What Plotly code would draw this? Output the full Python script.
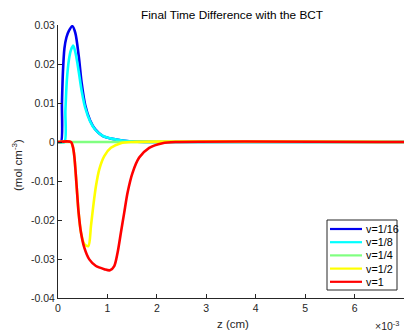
import plotly.graph_objects as go

# ---------------- data (z in units of 1e-3 cm) ----------------
z_v16 = [0, 0.06, 0.08, 0.10, 0.13, 0.17, 0.22, 0.29, 0.35, 0.42, 0.48, 0.55, 0.65, 0.75, 0.9, 1.1, 1.3, 1.6, 2.0, 7.0]
y_v16 = [0, 0, 0.010, 0.018, 0.024, 0.0268, 0.0285, 0.0297, 0.0280, 0.0220, 0.0150, 0.0095, 0.0055, 0.0033, 0.0016, 0.0008, 0.0004, 0.0001, 0, 0]

z_v8 = [0, 0.13, 0.15, 0.18, 0.22, 0.26, 0.31, 0.36, 0.42, 0.48, 0.55, 0.65, 0.75, 0.9, 1.1, 1.3, 1.6, 2.0, 7.0]
y_v8 = [0, 0, 0.008, 0.016, 0.021, 0.0235, 0.0247, 0.0225, 0.0180, 0.0130, 0.0088, 0.0053, 0.0032, 0.0016, 0.0008, 0.0004, 0.0001, 0, 0]

z_v4 = [0, 7.0]
y_v4 = [0, 0]

z_v2 = [0, 0.26, 0.30, 0.33, 0.377, 0.417, 0.465, 0.532, 0.613, 0.667, 0.714, 0.768, 0.835, 0.936, 1.07, 1.27, 1.5, 7.0]
y_v2 = [0, 0, -0.0012, -0.0036, -0.0113, -0.0181, -0.0232, -0.0262, -0.0267, -0.0215, -0.0164, -0.0113, -0.0070, -0.0036, -0.0015, -0.0003, 0, 0]

z_v1 = [0, 0.263, 0.30, 0.33, 0.377, 0.417, 0.465, 0.532, 0.633, 0.768, 0.936, 1.05, 1.138, 1.205, 1.273, 1.34, 1.407, 1.508, 1.643, 1.845, 2.115, 2.38, 7.0]
y_v1 = [0, 0, -0.0012, -0.0036, -0.0113, -0.0181, -0.0232, -0.0271, -0.0301, -0.0318, -0.0326, -0.0329, -0.0318, -0.0284, -0.0232, -0.0181, -0.0130, -0.0079, -0.0040, -0.0015, -0.0003, 0, 0]

series_names = ["v=1/16", "v=1/8", "v=1/4", "v=1/2", "v=1"]
series_colors = ["#0000f0", "#00ffff", "#80ff80", "#ffff00", "#ff0000"]
series_z = [z_v16, z_v8, z_v4, z_v2, z_v1]
series_y = [y_v16, y_v8, y_v4, y_v2, y_v1]

x_tick_vals = [0, 1, 2, 3, 4, 5, 6, 7]
x_tick_text = ["0", "1", "2", "3", "4", "5", "6", "7"]
y_tick_vals = [-0.04, -0.03, -0.02, -0.01, 0, 0.01, 0.02, 0.03]
y_tick_text = ["-0.04", "-0.03", "-0.02", "-0.01", "0", "0.01", "0.02", "0.03"]

title_text = "Final Time Difference with the BCT"
x_title = "z (cm)"
y_title = "(mol cm<sup>-3</sup>)"
x_exponent = "×10<sup>-3</sup>"

# ---------------- layout geometry ----------------
W, H = 404, 333
L, R, T, B = 58, 0, 25, 35
PW, PH = W - L - R, H - T - B
AX = "#262626"
FONT = "Liberation Sans, Arial, Helvetica, sans-serif"


def px(x):
    return (x - L) / PW


def py(y):
    return (H - B - y) / PH


fig = go.Figure()
for name, col, zz, yy in zip(series_names, series_colors, series_z, series_y):
    fig.add_trace(go.Scatter(
        x=zz, y=yy, mode="lines", name=name,
        line=dict(color=col, width=2.6, shape="spline", smoothing=0.8),
        showlegend=False, hoverinfo="skip"))

# manual MATLAB-style legend
shapes = [dict(type="rect", xref="paper", yref="paper",
               x0=px(327), x1=px(397), y0=py(290), y1=py(220),
               line=dict(color=AX, width=1), fillcolor="white", layer="above")]
annotations = []
for i, (name, col) in enumerate(zip(series_names, series_colors)):
    yy = 229 + i * 13.2
    shapes.append(dict(type="line", xref="paper", yref="paper",
                       x0=px(330), x1=px(362), y0=py(yy), y1=py(yy),
                       line=dict(color=col, width=2.2), layer="above"))
    annotations.append(dict(text=name, xref="paper", yref="paper",
                            x=px(363.5), y=py(yy), xanchor="left", yanchor="middle",
                            showarrow=False, font=dict(size=10.8, color="#000", family=FONT)))

annotations += [
    dict(text=title_text, xref="paper", yref="paper", x=px(232), y=py(15),
         xanchor="center", yanchor="middle", showarrow=False,
         font=dict(size=11.8, color="#000", family=FONT)),
    dict(text=x_title, xref="paper", yref="paper", x=px(233), y=py(324),
         xanchor="center", yanchor="middle", showarrow=False,
         font=dict(size=11.5, color=AX, family=FONT)),
    dict(text=x_exponent, xref="paper", yref="paper", x=px(401), y=py(325),
         xanchor="right", yanchor="middle", showarrow=False,
         font=dict(size=10.5, color=AX, family=FONT)),
    dict(text=y_title, xref="paper", yref="paper", x=px(17), y=py(165),
         xanchor="center", yanchor="middle", showarrow=False, textangle=-90,
         font=dict(size=11.5, color=AX, family=FONT)),
]

fig.update_layout(
    width=W, height=H,
    margin=dict(l=L, r=R, t=T, b=B, pad=0),
    paper_bgcolor="white", plot_bgcolor="white",
    font=dict(family=FONT, size=10.5, color=AX),
    showlegend=False,
    shapes=shapes, annotations=annotations,
    xaxis=dict(range=[0, 7], tickvals=x_tick_vals, ticktext=x_tick_text,
               showgrid=False, zeroline=False, showline=True, linecolor=AX, linewidth=1,
               ticks="inside", ticklen=4, tickcolor=AX, mirror=False,
               tickfont=dict(size=10.5, color=AX, family=FONT)),
    yaxis=dict(range=[-0.04, 0.03], tickvals=y_tick_vals, ticktext=y_tick_text,
               showgrid=False, zeroline=False, showline=True, linecolor=AX, linewidth=1,
               ticks="inside", ticklen=4, tickcolor=AX, mirror=False,
               tickfont=dict(size=10.5, color=AX, family=FONT)),
)

fig.write_html("out.html")
